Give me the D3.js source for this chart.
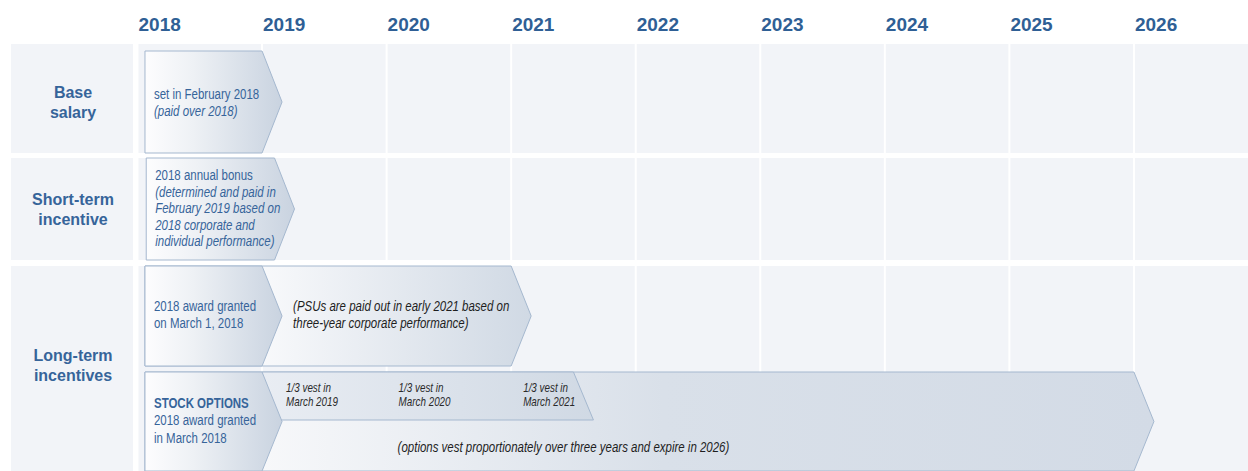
<!DOCTYPE html>
<html>
<head>
<meta charset="utf-8">
<script src="https://cdn.jsdelivr.net/npm/d3@7"></script>
<style>
  body { margin: 0; background: #ffffff; }
  svg { display: block; font-family: "Liberation Sans", Arial, sans-serif; }
</style>
</head>
<body>
<svg id="chart"></svg>
<script>
// ---- data ----
const years = [2018, 2019, 2020, 2021, 2022, 2023, 2024, 2025, 2026];
const rowLabels = [["Base", "salary"], ["Short-term", "incentive"], ["Long-term", "incentives"]];

// plan shapes, drawn in this order (later ones sit on top)
const shapeNames = ["Base salary", "Annual bonus", "PSU payout", "PSU grant", "Options term", "Vesting", "Options grant"];
const shapeLane  = [0, 1, 2, 2, 3, 4, 3];
const shapeStart = [2018.06, 2018.07, 2018.06, 2018.06, 2018.06, 2019.0, 2018.06];
const shapeEnd   = [2019.0, 2019.1, 2021.0, 2019.0, 2026.0, 2021.5, 2019.0];
const shapeKind  = ["chevron", "chevron", "body", "chevron", "body", "strip", "chevron"];

const baseNote = ["set in February 2018", "(paid over 2018)"];
const stiNote = ["2018 annual bonus", "(determined and paid in", "February 2019 based on", "2018 corporate and", "individual performance)"];
const psuNote = ["2018 award granted", "on March 1, 2018"];
const psuPayoutNote = ["(PSUs are paid out in early 2021 based on", "three-year corporate performance)"];
const optionNote = ["STOCK OPTIONS", "2018 award granted", "in March 2018"];
const optionTermNote = ["(options vest proportionately over three years and expire in 2026)"];
const vestYears = [2019, 2020, 2021];
const vestLabels = [["1/3 vest in", "March 2019"], ["1/3 vest in", "March 2020"], ["1/3 vest in", "March 2021"]];

class CompTimeline {

    constructor(_config) {
        this.config = {
            parentElement: _config.parentElement,
            containerWidth: 1248,
            containerHeight: 471,
            // row panels (y ranges) and arrow lanes
            rows: [[44, 153], [158, 260], [266, 490]],
            lanes: [[51, 153], [158, 260], [266, 366], [372, 471], [372, 420]],
            labelCol: [11, 133],
            tip: 20,
            narrow: 0.82   // no Arial Narrow here, so squeeze Liberation Sans
        };
        this.initVis();
    }

    initVis() {
        let vis = this;
        const c = vis.config;

        vis.xScale = d3.scaleLinear()
            .domain([2018, 2027])
            .range([137.5, 1258.5]);

        vis.svg = d3.select(c.parentElement)
            .attr('width', c.containerWidth)
            .attr('height', c.containerHeight);

        vis.defs = vis.svg.append('defs');
        vis.chart = vis.svg.append('g');

        vis.renderVis();
    }

    gradient(id, x1, x2, stops) {
        let vis = this;
        const g = vis.defs.append('linearGradient')
            .attr('id', id)
            .attr('gradientUnits', 'userSpaceOnUse')
            .attr('x1', x1).attr('x2', x2).attr('y1', 0).attr('y2', 0);
        g.selectAll('stop')
            .data(stops)
            .join('stop')
            .attr('offset', d => d[0])
            .attr('stop-color', d => d[1]);
        return `url(#${id})`;
    }

    // writes a block of lines vertically centred on cy
    textBlock(lines, x, cy, opts) {
        let vis = this;
        const lh = opts.lineHeight;
        const top = cy - (lines.length - 1) * lh / 2;
        const sx = opts.narrow ? vis.config.narrow : 1;
        let inParen = false;
        const t = vis.chart.append('g');
        lines.forEach((line, i) => {
            if (line.startsWith('(')) inParen = true;
            const italic = opts.italic || inParen;
            const y = top + i * lh + opts.size * 0.36;
            t.append('text')
                .attr('transform', `translate(${x},${y}) scale(${sx},1)`)
                .attr('font-size', opts.size)
                .attr('font-weight', opts.bold || (opts.boldFirst && i === 0) ? 'bold' : 'normal')
                .attr('font-style', italic ? 'italic' : 'normal')
                .attr('text-anchor', opts.anchor || 'start')
                .attr('fill', opts.color)
                .text(line);
            if (line.endsWith(')')) inParen = false;
        });
    }

    renderVis() {
        let vis = this;
        const c = vis.config;
        const x = vis.xScale;
        const blue = '#36649a';
        const dark = '#1e1e1e';

        // year headers
        vis.chart.selectAll('.year')
            .data(years)
            .join('text')
            .attr('class', 'year')
            .attr('x', d => x(d) + 1)
            .attr('y', 31)
            .attr('font-size', 19)
            .attr('font-weight', 'bold')
            .attr('fill', '#2f5f95')
            .text(d => d);

        // row panels: label cell + one cell per year
        const cells = [];
        c.rows.forEach((r, i) => {
            years.forEach(y => cells.push({row: i, year: y, y0: r[0], y1: r[1]}));
        });
        vis.chart.selectAll('.label-cell')
            .data(c.rows)
            .join('rect')
            .attr('class', 'label-cell')
            .attr('x', c.labelCol[0])
            .attr('y', d => d[0])
            .attr('width', c.labelCol[1] - c.labelCol[0])
            .attr('height', d => d[1] - d[0])
            .attr('fill', '#f2f4f8');
        vis.chart.selectAll('.cell')
            .data(cells)
            .join('rect')
            .attr('class', 'cell')
            .attr('x', d => x(d.year) + 1)
            .attr('y', d => d.y0)
            .attr('width', d => x(d.year + 1) - x(d.year) - 2)
            .attr('height', d => d.y1 - d.y0)
            .attr('fill', '#f2f4f8');

        // row labels, centred on the arrows of each row
        const labelCenters = [
            (c.lanes[0][0] + c.lanes[0][1]) / 2,
            (c.lanes[1][0] + c.lanes[1][1]) / 2,
            (c.lanes[2][0] + 464) / 2
        ];
        rowLabels.forEach((lines, i) => {
            vis.textBlock(lines, (c.labelCol[0] + c.labelCol[1]) / 2 + 1, labelCenters[i],
                {size: 16, lineHeight: 20, color: blue, anchor: 'middle', bold: true});
        });

        // arrows
        const tip = c.tip;
        const shapes = shapeNames.map((name, i) => ({
            name, kind: shapeKind[i], lane: c.lanes[shapeLane[i]],
            x0: x(shapeStart[i]), x1: x(shapeEnd[i])
        }));
        const grantTop = x(2019);

        shapes.forEach((s, i) => {
            const [y0, y1] = s.lane;
            const ym = (y0 + y1) / 2;
            let d, fill;
            if (s.kind === 'strip') {
                d = `M${s.x0},${y0}H${s.x1}L${s.x1 + tip},${y1}H${s.x0}Z`;
                fill = vis.gradient('g' + i, s.x0, s.x1 + tip,
                    [[0, '#e9edf3'], [1, '#d0d9e4']]);
            } else {
                d = `M${s.x0},${y0}H${s.x1}L${s.x1 + tip},${ym}L${s.x1},${y1}H${s.x0}Z`;
                if (s.kind === 'chevron') {
                    fill = vis.gradient('g' + i, s.x0, s.x1 + tip,
                        [[0, '#fdfdfe'], [0.35, '#eef1f5'], [1, '#c9d3e0']]);
                } else if (s.x1 - grantTop < 400) {
                    fill = vis.gradient('g' + i, grantTop, s.x1 + tip,
                        [[0, '#f8f9fb'], [1, '#d0d9e4']]);
                } else {
                    fill = vis.gradient('g' + i, grantTop, s.x1 + tip,
                        [[0, '#f7f8fa'], [0.45, '#d9e0e9'], [1, '#d3dbe6']]);
                }
            }
            vis.chart.append('path')
                .attr('class', 'shape')
                .attr('d', d)
                .attr('fill', fill)
                .attr('stroke', '#a5b8cf')
                .attr('stroke-width', 1);
        });

        // notes inside the arrows
        const pad = 9;
        const laneMid = l => (c.lanes[l][0] + c.lanes[l][1]) / 2;
        const grantTip = x(2019) + tip;
        vis.textBlock(baseNote, x(shapeStart[0]) + pad, laneMid(0),
            {size: 14, lineHeight: 17, color: blue, narrow: true});
        vis.textBlock(stiNote, x(shapeStart[1]) + pad, laneMid(1) - 1,
            {size: 14, lineHeight: 16.5, color: blue, narrow: true});
        vis.textBlock(psuNote, x(shapeStart[3]) + pad, laneMid(2) - 2,
            {size: 14, lineHeight: 17, color: blue, narrow: true});
        vis.textBlock(psuPayoutNote, grantTip + 11, laneMid(2) - 1.5,
            {size: 14, lineHeight: 17, color: dark, narrow: true});
        vis.textBlock(optionNote, x(shapeStart[6]) + pad, 420,
            {size: 14, lineHeight: 17.5, color: blue, narrow: true, boldFirst: true});
        vis.textBlock(optionTermNote, x(2020) + 11, 447,
            {size: 14, lineHeight: 17, color: dark, narrow: true});

        vestLabels.forEach((lines, i) => {
            const vx = Math.max(x(vestYears[i]) + 12, grantTip + 4);
            vis.textBlock(lines, vx, laneMid(4) - 1.5,
                {size: 12, lineHeight: 13.5, color: '#2a2a2a', narrow: true, italic: true});
        });
    }
}

new CompTimeline({parentElement: '#chart'});
</script>
</body>
</html>
